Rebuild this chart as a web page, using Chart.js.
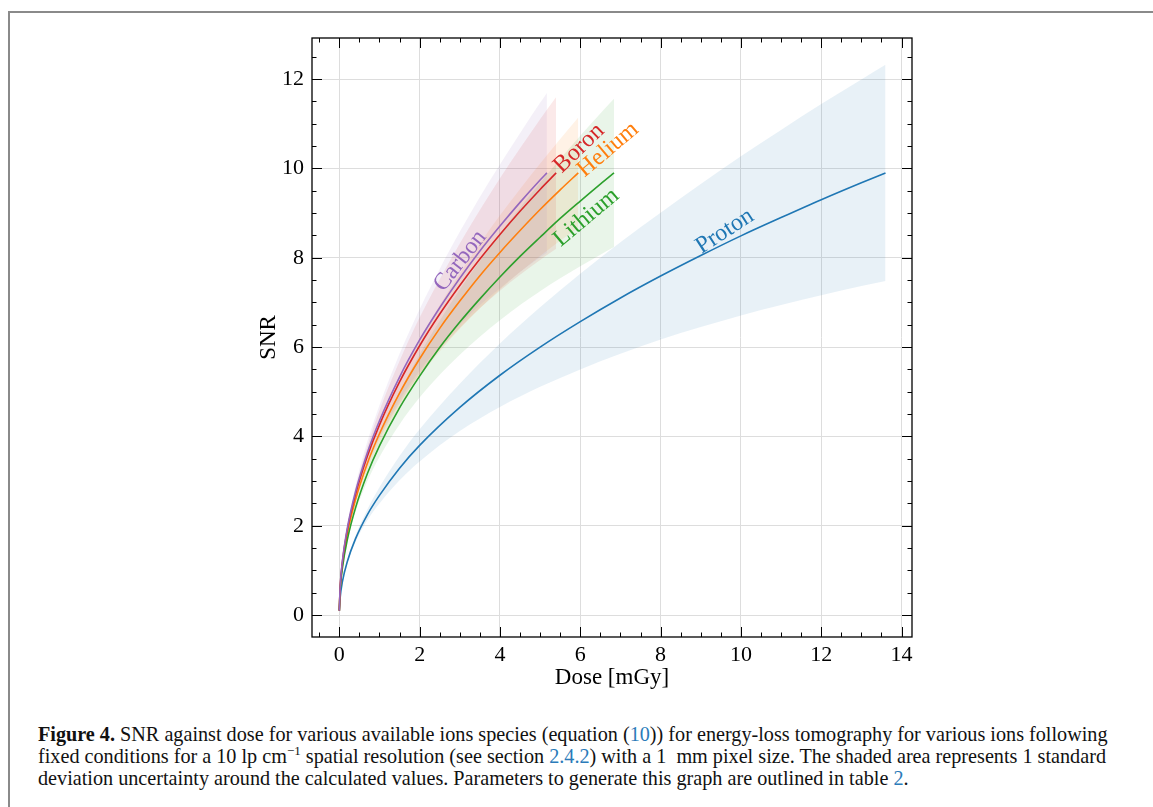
<!DOCTYPE html>
<html>
<head>
<meta charset="utf-8">
<script src="https://cdn.jsdelivr.net/npm/chart.js@4/dist/chart.umd.min.js"></script>
<style>
  html, body { margin: 0; padding: 0; background: #fff; }
  body { width: 1153px; height: 807px; position: relative; overflow: hidden; }
  #frame { position: absolute; left: 8px; top: 11px; right: -4px; bottom: -4px;
           border-left: 2px solid #8a8a8a; border-top: 2px solid #8a8a8a; }
  #chartCanvas { position: absolute; left: 0; top: 0; }
  #caption { position: absolute; left: 38px; top: 723px; font-family: 'Liberation Serif', serif;
             font-size: 20.2px; line-height: 22px; color: #111; }
  #caption .line { white-space: nowrap; }
  #caption .blue { color: #2b7bb9; }
  #caption sup { font-size: 13px; vertical-align: baseline; position: relative; top: -8px; line-height: 0; }
</style>
</head>
<body>
<div id="frame"></div>
<canvas id="chartCanvas" width="1153" height="700"></canvas>
<div id="caption">
  <div class="line"><b>Figure 4.</b> SNR against dose for various available ions species (equation (<span class="blue">10</span>)) for energy-loss tomography for various ions following</div>
  <div class="line">fixed conditions for a 10 lp cm<sup>&minus;1</sup> spatial resolution (see section <span class="blue">2.4.2</span>) with a 1&nbsp; mm pixel size. The shaded area represents 1 standard</div>
  <div class="line">deviation uncertainty around the calculated values. Parameters to generate this graph are outlined in table <span class="blue">2</span>.</div>
</div>
<script>
// ----------------------------------------------------------- DATA -----------------------------------------------------------

// Proton
const PROTON_DOSE = [0, 0.02, 0.08, 0.2, 0.4, 0.7, 1, 1.5, 2, 3, 4, 5, 6, 7, 8, 9, 10, 11, 12, 13, 13.6];
const PROTON_SNR  = [0.1, 0.38, 0.76, 1.20, 1.70, 2.25, 2.68, 3.29, 3.80, 4.65, 5.37, 6.00, 6.57, 7.10, 7.59, 8.05, 8.49, 8.90, 9.30, 9.68, 9.90];
const PROTON_HI   = [0.1, 0.38, 0.77, 1.24, 1.77, 2.37, 2.86, 3.56, 4.16, 5.18, 6.08, 6.89, 7.64, 8.35, 9.01, 9.65, 10.27, 10.86, 11.44, 11.99, 12.32];
const PROTON_LO   = [0.1, 0.38, 0.75, 1.16, 1.63, 2.13, 2.50, 3.02, 3.44, 4.12, 4.66, 5.11, 5.50, 5.85, 6.17, 6.45, 6.71, 6.94, 7.16, 7.37, 7.48];

// Helium
const HELIUM_DOSE = [0, 0.02, 0.08, 0.2, 0.4, 0.7, 1, 1.5, 2, 2.5, 3, 3.5, 4, 4.5, 5, 5.5, 5.95];
const HELIUM_SNR  = [0.1, 0.57, 1.15, 1.82, 2.57, 3.40, 4.06, 4.97, 5.74, 6.42, 7.03, 7.60, 8.12, 8.61, 9.08, 9.52, 9.90];
const HELIUM_HI   = [0.1, 0.58, 1.16, 1.86, 2.65, 3.54, 4.27, 5.28, 6.16, 6.94, 7.65, 8.32, 8.95, 9.54, 10.11, 10.66, 11.14];
const HELIUM_LO   = [0.1, 0.57, 1.13, 1.77, 2.49, 3.25, 3.85, 4.66, 5.33, 5.90, 6.41, 6.87, 7.29, 7.68, 8.04, 8.38, 8.67];

// Lithium
const LITHIUM_DOSE = [0, 0.02, 0.08, 0.2, 0.4, 0.7, 1, 1.5, 2, 2.5, 3, 3.5, 4, 4.5, 5, 5.5, 6, 6.5, 6.84];
const LITHIUM_SNR  = [0.1, 0.54, 1.07, 1.69, 2.39, 3.17, 3.79, 4.64, 5.35, 5.99, 6.56, 7.08, 7.57, 8.03, 8.46, 8.88, 9.27, 9.65, 9.90];
const LITHIUM_HI   = [0.1, 0.54, 1.09, 1.74, 2.49, 3.34, 4.03, 5.00, 5.84, 6.59, 7.29, 7.93, 8.54, 9.12, 9.68, 10.21, 10.73, 11.23, 11.56];
const LITHIUM_LO   = [0.1, 0.53, 1.05, 1.64, 2.30, 3.00, 3.54, 4.27, 4.87, 5.38, 5.83, 6.23, 6.60, 6.94, 7.25, 7.54, 7.81, 8.07, 8.24];

// Boron
const BORON_DOSE = [0, 0.02, 0.08, 0.2, 0.4, 0.7, 1, 1.5, 2, 2.5, 3, 3.5, 4, 4.5, 5, 5.4];
const BORON_SNR  = [0.1, 0.60, 1.21, 1.91, 2.69, 3.56, 4.26, 5.22, 6.03, 6.74, 7.38, 7.97, 8.52, 9.04, 9.53, 9.90];
const BORON_HI   = [0.1, 0.61, 1.23, 1.97, 2.82, 3.78, 4.58, 5.69, 6.66, 7.52, 8.32, 9.07, 9.78, 10.45, 11.10, 11.60];
const BORON_LO   = [0.1, 0.60, 1.18, 1.84, 2.57, 3.34, 3.95, 4.74, 5.40, 5.95, 6.43, 6.87, 7.26, 7.62, 7.95, 8.20];

// Carbon
const CARBON_DOSE = [0, 0.02, 0.08, 0.2, 0.4, 0.7, 1, 1.5, 2, 2.5, 3, 3.5, 4, 4.5, 5, 5.17];
const CARBON_SNR  = [0.1, 0.62, 1.23, 1.95, 2.75, 3.64, 4.35, 5.33, 6.16, 6.88, 7.54, 8.15, 8.71, 9.24, 9.74, 9.90];
const CARBON_HI   = [0.1, 0.62, 1.26, 2.02, 2.89, 3.89, 4.70, 5.85, 6.85, 7.75, 8.58, 9.36, 10.09, 10.79, 11.47, 11.69];
const CARBON_LO   = [0.1, 0.61, 1.20, 1.88, 2.62, 3.40, 4.01, 4.81, 5.47, 6.02, 6.50, 6.94, 7.32, 7.68, 8.01, 8.11];

// Axis ticks
const X_TICKS = [0, 2, 4, 6, 8, 10, 12, 14];
const Y_TICKS = [0, 2, 4, 6, 8, 10, 12];

// ----------------------------------------------------------- STYLE -----------------------------------------------------------

const X_MIN = -0.68, X_MAX = 14.26;
const Y_MIN = -0.49, Y_MAX = 12.92;
const SERIF = "'Liberation Serif', 'DejaVu Serif', serif";

const SPECIES = [
    { name: 'Carbon',  color: '#9467bd', dose: CARBON_DOSE,  snr: CARBON_SNR,  hi: CARBON_HI,  lo: CARBON_LO },
    { name: 'Boron',   color: '#d62728', dose: BORON_DOSE,   snr: BORON_SNR,   hi: BORON_HI,   lo: BORON_LO },
    { name: 'Lithium', color: '#2ca02c', dose: LITHIUM_DOSE, snr: LITHIUM_SNR, hi: LITHIUM_HI, lo: LITHIUM_LO },
    { name: 'Helium',  color: '#ff7f0e', dose: HELIUM_DOSE,  snr: HELIUM_SNR,  hi: HELIUM_HI,  lo: HELIUM_LO },
    { name: 'Proton',  color: '#1f77b4', dose: PROTON_DOSE,  snr: PROTON_SNR,  hi: PROTON_HI,  lo: PROTON_LO }
];

// text placed along the curves (data coords + screen angle in degrees)
const CURVE_LABELS = [
    { text: 'Carbon',  color: '#9467bd', x: 3.01, y: 7.93,  angle: -52 },
    { text: 'Boron',   color: '#d62728', x: 5.97, y: 10.45, angle: -44 },
    { text: 'Helium',  color: '#ff7f0e', x: 6.69, y: 10.42, angle: -40 },
    { text: 'Lithium', color: '#2ca02c', x: 6.15, y: 8.90,  angle: -40 },
    { text: 'Proton',  color: '#1f77b4', x: 9.60, y: 8.59,  angle: -33 }
];

function withAlpha(hex, a) {
    const n = parseInt(hex.slice(1), 16);
    return `rgba(${(n >> 16) & 255}, ${(n >> 8) & 255}, ${n & 255}, ${a})`;
}

function toPoints(xs, ys) {
    return xs.map((x, i) => ({ x: x, y: ys[i] }));
}

// Build datasets: upper band (filled to next), lower band, then the curve
const datasets = [];
SPECIES.forEach((s, i) => {
    datasets.push({
        data: toPoints(s.dose, s.hi),
        fill: '+1',
        backgroundColor: withAlpha(s.color, 0.1),
        borderColor: 'rgba(0,0,0,0)',
        borderWidth: 0,
        pointRadius: 0,
        order: 10 + i
    });
    datasets.push({
        data: toPoints(s.dose, s.lo),
        fill: false,
        borderColor: 'rgba(0,0,0,0)',
        borderWidth: 0,
        pointRadius: 0,
        order: 10 + i
    });
    datasets.push({
        label: s.name,
        data: toPoints(s.dose, s.snr),
        fill: false,
        borderColor: s.color,
        borderWidth: 1.6,
        pointRadius: 0,
        order: i
    });
});

// ----------------------------------------------------------- PLUGINS -----------------------------------------------------------

// Box frame with inward major/minor ticks on all four sides
const frameTicks = {
    id: 'frameTicks',
    afterDraw(chart) {
        const { ctx, chartArea: a, scales: { x, y } } = chart;
        const seg = (x1, y1, x2, y2) => { ctx.beginPath(); ctx.moveTo(x1, y1); ctx.lineTo(x2, y2); ctx.stroke(); };
        ctx.save();
        ctx.strokeStyle = '#000';

        ctx.lineWidth = 1;
        for (let v = -0.5; v <= 14.5; v += 0.5) {
            const px = Math.round(x.getPixelForValue(v)) + 0.5;
            if (px < a.left || px > a.right) continue;
            const len = v % 2 === 0 ? 10 : 4.5;
            seg(px, a.bottom, px, a.bottom - len);
            seg(px, a.top, px, a.top + len);
        }
        for (let v = -0.5; v <= 13; v += 0.5) {
            const py = Math.round(y.getPixelForValue(v)) + 0.5;
            if (py < a.top || py > a.bottom) continue;
            const len = v % 2 === 0 ? 10 : 4.5;
            seg(a.left, py, a.left + len, py);
            seg(a.right, py, a.right - len, py);
        }

        ctx.lineWidth = 1.3;
        ctx.strokeRect(a.left, a.top, a.right - a.left, a.bottom - a.top);
        ctx.restore();
    }
};

const curveLabels = {
    id: 'curveLabels',
    afterDatasetsDraw(chart) {
        const { ctx, scales: { x, y } } = chart;
        ctx.save();
        ctx.font = `24px ${SERIF}`;
        ctx.textAlign = 'center';
        ctx.textBaseline = 'middle';
        CURVE_LABELS.forEach(l => {
            ctx.save();
            ctx.translate(x.getPixelForValue(l.x), y.getPixelForValue(l.y));
            ctx.rotate(l.angle * Math.PI / 180);
            ctx.fillStyle = l.color;
            ctx.fillText(l.text, 0, 0);
            ctx.restore();
        });
        ctx.restore();
    }
};

// ----------------------------------------------------------- CHART -----------------------------------------------------------

const tickFont = { family: SERIF, size: 22 };
const titleFont = { family: SERIF, size: 23 };

new Chart(document.getElementById('chartCanvas').getContext('2d'), {
    type: 'line',
    data: { datasets: datasets },
    options: {
        responsive: false,
        animation: false,
        layout: { padding: { left: 240, right: 241, top: 38, bottom: 0 } },
        elements: { line: { cubicInterpolationMode: 'monotone' } },
        plugins: {
            legend: { display: false },
            tooltip: { enabled: false },
            filler: { drawTime: 'beforeDatasetsDraw' }
        },
        scales: {
            x: {
                type: 'linear',
                min: X_MIN,
                max: X_MAX,
                afterBuildTicks: s => { s.ticks = X_TICKS.map(v => ({ value: v })); },
                afterFit: s => { s.height = 63; },
                grid: { color: '#dddddd', lineWidth: 1, drawTicks: false },
                border: { display: false },
                ticks: { color: '#000', font: tickFont, padding: 5, maxRotation: 0 },
                title: { display: true, text: 'Dose [mGy]', color: '#000', font: titleFont, padding: { bottom: 8, top: 0 } }
            },
            y: {
                type: 'linear',
                min: Y_MIN,
                max: Y_MAX,
                afterBuildTicks: s => { s.ticks = Y_TICKS.map(v => ({ value: v })); },
                afterFit: s => { s.width = 72; },
                grid: { color: '#dddddd', lineWidth: 1, drawTicks: false },
                border: { display: false },
                ticks: { color: '#000', font: tickFont, padding: 8 },
                title: { display: true, text: 'SNR', color: '#000', font: titleFont, padding: { top: 15, bottom: 0 } }
            }
        }
    },
    plugins: [frameTicks, curveLabels]
});
</script>
</body>
</html>
